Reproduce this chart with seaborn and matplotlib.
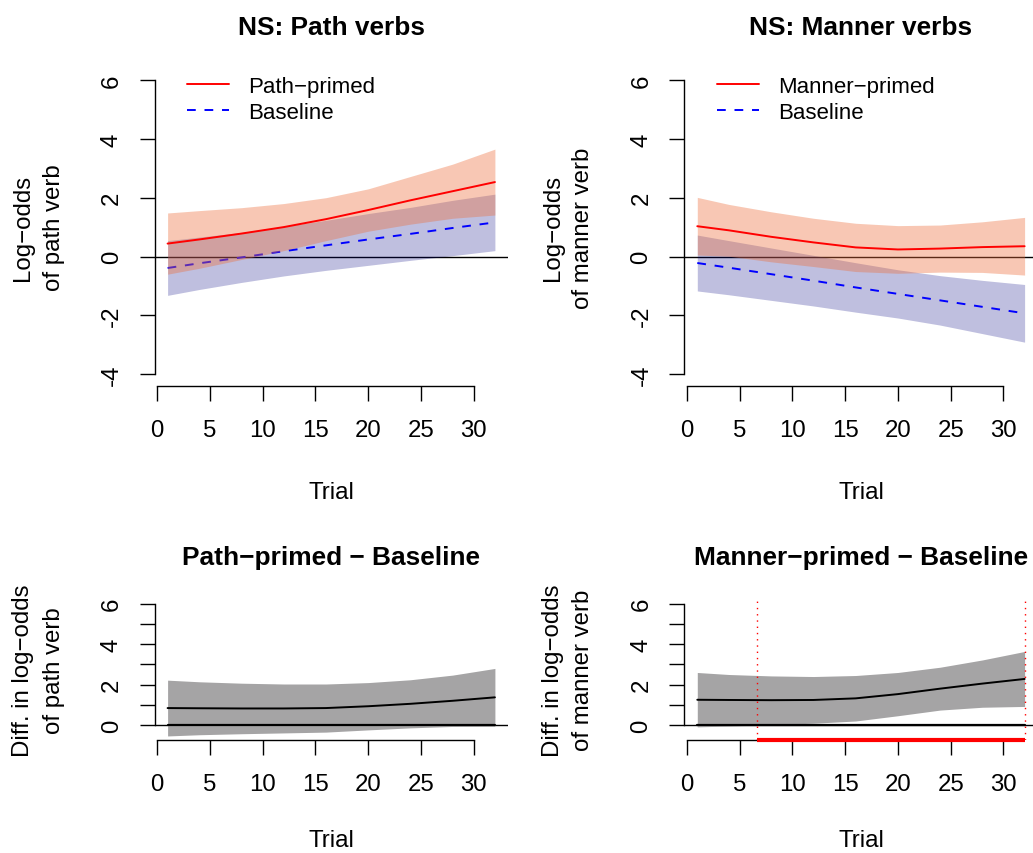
import matplotlib
matplotlib.use("Agg")
import matplotlib.pyplot as plt
import seaborn as sns
import pandas as pd

# ---------------- data ----------------
trials = [1, 4, 8, 12, 16, 20, 24, 28, 32]

path_primed_fit   = [0.44, 0.58, 0.78, 1.00, 1.27, 1.58, 1.91, 2.22, 2.53]
path_primed_upper = [1.48, 1.56, 1.66, 1.80, 2.00, 2.30, 2.72, 3.14, 3.65]
path_primed_lower = [-0.60, -0.40, -0.10, 0.20, 0.54, 0.86, 1.10, 1.30, 1.41]
path_base_fit     = [-0.39, -0.23, -0.03, 0.18, 0.38, 0.58, 0.77, 0.97, 1.16]
path_base_upper   = [0.54, 0.66, 0.82, 1.02, 1.23, 1.46, 1.67, 1.91, 2.12]
path_base_lower   = [-1.32, -1.12, -0.88, -0.66, -0.47, -0.30, -0.13, 0.03, 0.20]

manner_primed_fit   = [1.03, 0.89, 0.67, 0.48, 0.31, 0.24, 0.27, 0.32, 0.35]
manner_primed_upper = [2.01, 1.77, 1.52, 1.30, 1.13, 1.05, 1.07, 1.18, 1.33]
manner_primed_lower = [0.05, 0.01, -0.18, -0.34, -0.51, -0.57, -0.53, -0.54, -0.63]
manner_base_fit     = [-0.22, -0.38, -0.60, -0.82, -1.05, -1.27, -1.49, -1.71, -1.93]
manner_base_upper   = [0.73, 0.54, 0.29, 0.04, -0.21, -0.45, -0.65, -0.81, -0.95]
manner_base_lower   = [-1.17, -1.30, -1.49, -1.68, -1.89, -2.09, -2.33, -2.62, -2.91]

path_diff_fit   = [0.84, 0.83, 0.82, 0.82, 0.84, 0.93, 1.05, 1.20, 1.37]
path_diff_upper = [2.22, 2.14, 2.07, 2.03, 2.03, 2.10, 2.24, 2.47, 2.80]
path_diff_lower = [-0.54, -0.48, -0.43, -0.39, -0.35, -0.24, -0.14, -0.07, -0.06]

manner_diff_fit   = [1.25, 1.24, 1.23, 1.24, 1.32, 1.53, 1.80, 2.05, 2.28]
manner_diff_upper = [2.60, 2.50, 2.43, 2.40, 2.45, 2.60, 2.86, 3.22, 3.64]
manner_diff_lower = [-0.09, -0.05, 0.02, 0.09, 0.20, 0.46, 0.74, 0.88, 0.92]

manner_sig_region = [6.62, 32.0]

x_ticks = [0, 5, 10, 15, 20, 25, 30]
top_yticks = [-4, -2, 0, 2, 4, 6]
bottom_yticks = [0, 1, 2, 3, 4, 5, 6]
bottom_ylabels = ["0", "", "2", "", "4", "", "6"]

titles = ["NS: Path verbs", "NS: Manner verbs",
          "Path\u2212primed \u2212 Baseline", "Manner\u2212primed \u2212 Baseline"]
ylabels = ["Log\u2212odds\nof path verb", "Log\u2212odds\nof manner verb",
           "Diff. in log\u2212odds\nof path verb", "Diff. in log\u2212odds\nof manner verb"]
legend_labels = [["Path\u2212primed", "Baseline"], ["Manner\u2212primed", "Baseline"]]

# ---------------- style ----------------
sns.set_theme(style="ticks")
plt.rcParams["font.family"] = ["Liberation Sans", "DejaVu Sans"]
plt.rcParams["axes.unicode_minus"] = True
plt.rcParams["text.color"] = "black"
plt.rcParams["axes.labelcolor"] = "black"
plt.rcParams["xtick.color"] = "black"
plt.rcParams["ytick.color"] = "black"
plt.rcParams["axes.edgecolor"] = "black"

W, H = 1033, 854
fig = plt.figure(figsize=(W / 100, H / 100), dpi=100)
fig.patch.set_facecolor("white")


def add_ax(l, t, r, b):
    return fig.add_axes([l / W, 1 - b / H, (r - l) / W, (b - t) / H])


ax1 = add_ax(154.5, 69.2, 508, 387)
ax2 = add_ax(684.2, 69.2, 1037.7, 387)
ax3 = add_ax(154.5, 599.5, 508, 741.4)
ax4 = add_ax(684.2, 599.5, 1037.7, 741.4)

RED_BAND = (237 / 255, 110 / 255, 58 / 255, 0.38)
BLUE_BAND = (0.0, 0.0, 0.5, 0.25)
GREY_BAND = "#a5a4a5"


def style_axes(ax, yticks, ytlabels, ylim, title, ylabel, height_px, xlab_off):
    ax.set_xlim(-0.24, 33.24)
    ax.set_ylim(*ylim)
    for s in ["top", "right"]:
        ax.spines[s].set_visible(False)
    for s in ["left", "bottom"]:
        ax.spines[s].set_linewidth(1.0)
        ax.spines[s].set_color("black")
    ax.spines["left"].set_bounds(yticks[0], yticks[-1])
    ax.spines["bottom"].set_bounds(0, 30)
    ax.set_xticks(x_ticks)
    ax.set_xticklabels([str(v) for v in x_ticks])
    ax.set_yticks(yticks)
    ax.set_yticklabels(ytlabels, rotation=90, va="center")
    ax.tick_params(axis="both", length=10.8, width=1.0, direction="out",
                   labelsize=17.3, colors="black")
    ax.tick_params(axis="x", pad=13)
    ax.tick_params(axis="y", pad=12)
    ax.set_facecolor("none")
    ax.grid(False)
    ax.set_title(title, fontsize=18.9, fontweight="bold", pad=24.8, color="black")
    ax.set_xlabel("Trial", fontsize=17.3)
    ax.xaxis.set_label_coords(0.5, -xlab_off / height_px)
    ax.xaxis.label.set_verticalalignment("top")
    ax.set_ylabel(ylabel, fontsize=17.3, linespacing=1.5, va="center",
                  multialignment="center")
    ax.yaxis.set_label_coords(-116 / 353.5, 0.5)


def draw_top(ax, p_fit, p_up, p_lo, b_fit, b_up, b_lo, labels):
    ax.axhline(0, color="black", lw=1.0, zorder=1)
    ax.fill_between(trials, b_lo, b_up, color=BLUE_BAND, lw=0, zorder=2)
    df_b = pd.DataFrame({"Trial": trials, "fit": b_fit})
    sns.lineplot(data=df_b, x="Trial", y="fit", ax=ax, color="blue", lw=1.4,
                 zorder=3, legend=False)
    lb = ax.lines[-1]
    lb.set_dashes((4.5, 4.5))
    ax.fill_between(trials, p_lo, p_up, color=RED_BAND, lw=0, zorder=4)
    df_p = pd.DataFrame({"Trial": trials, "fit": p_fit})
    sns.lineplot(data=df_p, x="Trial", y="fit", ax=ax, color="red", lw=1.4,
                 zorder=5, legend=False)
    lp = ax.lines[-1]
    ax.legend([lp, lb], labels, loc="upper left", bbox_to_anchor=(0.092, 0.975),
              frameon=False, fontsize=16, handlelength=1.9, handletextpad=0.85,
              labelspacing=0.2, borderpad=0, borderaxespad=0)


def draw_diff(ax, fit, up, lo):
    ax.axhline(0, color="black", lw=1.0, zorder=1)
    ax.fill_between(trials, lo, up, color=GREY_BAND, lw=0, zorder=2)
    df = pd.DataFrame({"Trial": trials, "fit": fit})
    sns.lineplot(data=df, x="Trial", y="fit", ax=ax, color="black", lw=1.4,
                 zorder=3, legend=False)
    ax.plot([trials[0], trials[-1]], [0, 0], color="black", lw=1.6, zorder=3)


draw_top(ax1, path_primed_fit, path_primed_upper, path_primed_lower,
         path_base_fit, path_base_upper, path_base_lower, legend_labels[0])
draw_top(ax2, manner_primed_fit, manner_primed_upper, manner_primed_lower,
         manner_base_fit, manner_base_upper, manner_base_lower, legend_labels[1])
draw_diff(ax3, path_diff_fit, path_diff_upper, path_diff_lower)
draw_diff(ax4, manner_diff_fit, manner_diff_upper, manner_diff_lower)

# significance markings for manner difference
for xv in manner_sig_region:
    ax4.axvline(xv, color="red", lw=1.0, linestyle=(0, (1, 3.5)), zorder=4)
ax4.plot(manner_sig_region, [-0.76, -0.76], color="red", lw=3.0,
         solid_capstyle="butt", clip_on=False, zorder=6)

style_axes(ax1, top_yticks, [str(v) for v in top_yticks], (-4.4, 6.4),
           titles[0], ylabels[0], 317.8, 95)
style_axes(ax2, top_yticks, [str(v) for v in top_yticks], (-4.4, 6.4),
           titles[1], ylabels[1], 317.8, 95)
style_axes(ax3, bottom_yticks, bottom_ylabels, (-0.76, 6.26),
           titles[2], ylabels[2], 141.9, 89)
style_axes(ax4, bottom_yticks, bottom_ylabels, (-0.76, 6.26),
           titles[3], ylabels[3], 141.9, 89)

fig.savefig("out.png", dpi=100)
